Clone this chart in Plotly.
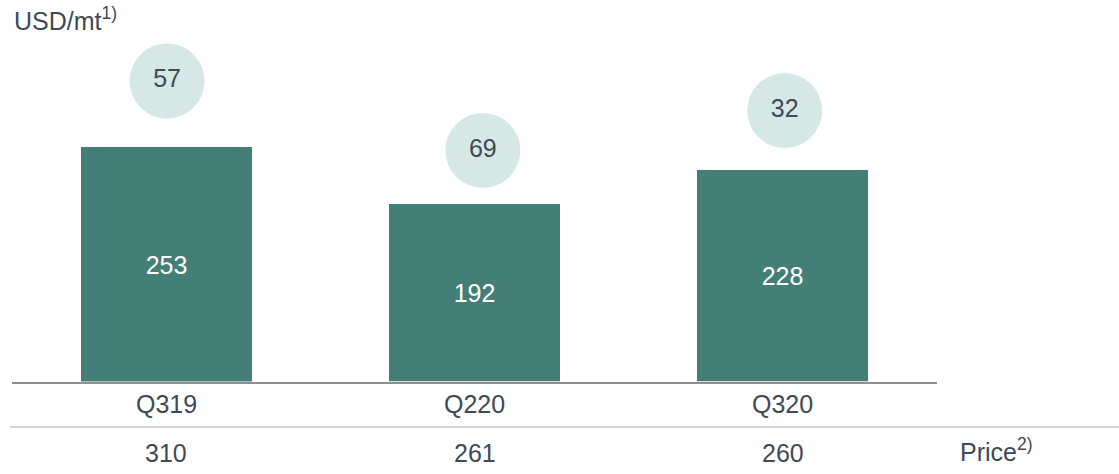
import plotly.graph_objects as go

# Quarterly cash cost (bars) and margin (bubbles), USD/mt
quarters = ["Q319", "Q220", "Q320"]
cost = [253, 192, 228]
margin = [57, 69, 32]
price = [310, 261, 260]

# Bubble placement (data units / category offsets)
bubble_y = [324.5, 249.5, 292.6]
bubble_dx = [0.003, 0.027, 0.006]

W, H = 1119, 474
BAR_COLOR = "#447f77"
BUBBLE_COLOR = "#d5e8e5"
TEXT_COLOR = "#404a54"
FONT = "Liberation Sans, Arial, sans-serif"
FS = 25

x_pos = list(range(len(quarters)))

fig = go.Figure()

fig.add_trace(go.Bar(
    x=x_pos,
    y=cost,
    width=0.555,
    marker=dict(color=BAR_COLOR, line=dict(width=0)),
    text=[str(v) for v in cost],
    textposition="inside",
    insidetextanchor="middle",
    textangle=0,
    textfont=dict(color="white", size=FS, family=FONT),
    hoverinfo="skip",
))

fig.add_trace(go.Scatter(
    x=[x + d for x, d in zip(x_pos, bubble_dx)],
    y=bubble_y,
    mode="markers+text",
    marker=dict(size=75, color=BUBBLE_COLOR, line=dict(width=0)),
    text=[str(v) for v in margin],
    textposition="middle center",
    textfont=dict(color=TEXT_COLOR, size=FS, family=FONT),
    hoverinfo="skip",
    cliponaxis=False,
))

baseline_px = 381.5
px_per_unit = 0.926

annotations = []
# Category labels below the axis
for x, q in zip(x_pos, quarters):
    annotations.append(dict(
        x=x, xref="x", y=1 - 403.5 / H, yref="paper",
        text=q, showarrow=False, xanchor="center", yanchor="middle",
        font=dict(color=TEXT_COLOR, size=FS, family=FONT),
    ))
# Price row
for x, p in zip(x_pos, price):
    annotations.append(dict(
        x=x, xref="x", y=1 - 452.5 / H, yref="paper",
        text=str(p), showarrow=False, xanchor="center", yanchor="middle",
        font=dict(color=TEXT_COLOR, size=FS, family=FONT),
    ))
annotations.append(dict(
    x=958 / W, xref="paper", y=1 - 449.5 / H, yref="paper",
    text="Price<sup>2)</sup>", showarrow=False, xanchor="left", yanchor="middle",
    font=dict(color=TEXT_COLOR, size=FS, family=FONT),
))
# Unit label
annotations.append(dict(
    x=12 / W, xref="paper", y=1 - 18.5 / H, yref="paper",
    text="USD/mt<sup>1)</sup>", showarrow=False, xanchor="left", yanchor="middle",
    font=dict(color=TEXT_COLOR, size=FS, family=FONT),
))

fig.update_layout(
    width=W, height=H,
    margin=dict(l=0, r=0, t=0, b=0),
    paper_bgcolor="white", plot_bgcolor="white",
    showlegend=False,
    bargap=0,
    xaxis=dict(
        domain=[12 / W, 937 / W],
        range=[-0.5, 2.5],
        showgrid=False, zeroline=False,
        showticklabels=False, ticks="",
        showline=True, linecolor="#8f8f8f", linewidth=2,
        fixedrange=True,
    ),
    yaxis=dict(
        domain=[(H - baseline_px) / H, 1],
        range=[0, baseline_px / px_per_unit],
        showgrid=False, zeroline=False,
        showticklabels=False, ticks="", showline=False,
        fixedrange=True,
    ),
    annotations=annotations,
    shapes=[dict(
        type="line", xref="paper", yref="paper",
        x0=10 / W, x1=1, y0=1 - 427 / H, y1=1 - 427 / H,
        line=dict(color="#d3d3d3", width=2),
    )],
)

fig.write_html("out.html")
